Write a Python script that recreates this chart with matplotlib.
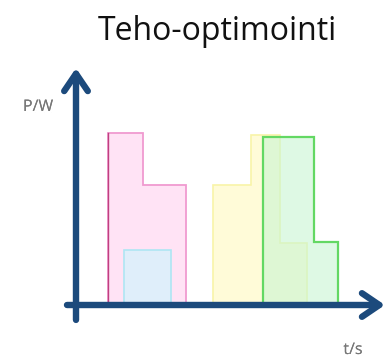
import numpy as np
import matplotlib
matplotlib.use("Agg")
import matplotlib.pyplot as plt
import matplotlib.patheffects as pe

# step profiles: time edges and power per step (arbitrary units)
pink_t = [1.07, 2.23, 3.67]
pink_p = [7.4, 5.15]
blue_t = [1.6, 3.17]
blue_p = [2.35]
yellow_t = [4.57, 5.83, 6.8, 7.7]
yellow_p = [5.15, 7.3, 2.65]
green_t = [6.23, 7.93, 8.73]
green_p = [7.2, 2.7]

title = "Teho-optimointi"
ylabel = "P/W"
xlabel = "t/s"

navy = "#1c4a7c"

fig = plt.figure(figsize=(3.85, 3.61), dpi=100)
ax = fig.add_axes([76/385, 56/361, 300/385, 233/361])
ax.set_xlim(0, 10)
ax.set_ylim(0, 10)
ax.axis("off")

def block(t, p, fc, ec, lw=1.2, alpha=1.0, z=2):
    ax.stairs(p, t, baseline=0, fill=True, facecolor=fc, edgecolor="none", alpha=alpha, zorder=z)
    ax.stairs(p, t, baseline=0, fill=False, edgecolor=ec, lw=lw, zorder=z + 0.5)

block(pink_t, pink_p, "#ffe3f5", "#f09ad0", lw=1.3)
ax.plot([pink_t[0], pink_t[0]], [0, pink_p[0]], color="#c0407f", lw=1.0, zorder=3)
block(blue_t, blue_p, "#dfeefa", "#aee6f3", lw=1.2, z=4)
block(yellow_t, yellow_p, "#fffbd8", "#f8f4a8", lw=1.2)
block(green_t, green_p, "#c8f5d2", "#63d863", lw=1.6, alpha=0.6, z=5)

arrow = dict(arrowstyle="->,head_length=1.25,head_width=0.85", lw=4.6, color=navy,
             capstyle="round", joinstyle="round", shrinkA=0, shrinkB=0)
ax.annotate("", xy=(10.3, 0), xytext=(-0.3, 0), arrowprops=arrow, annotation_clip=False, zorder=6)
ax.annotate("", xy=(0, 10.17), xytext=(0, -0.64), arrowprops=arrow, annotation_clip=False, zorder=6)

glow = [pe.SimplePatchShadow(offset=(1, -1), shadow_rgbFace="#999999", alpha=0.5),
        pe.withStroke(linewidth=3.5, foreground="white"), pe.Normal()]
fig.text(38/385, 1 - 107/361, ylabel, ha="center", va="center", fontsize=11.5,
         color="#777777", family="Open Sans", path_effects=glow)
fig.text(353/385, 1 - 350/361, xlabel, ha="center", va="center", fontsize=11.5,
         color="#777777", family="Open Sans", path_effects=glow)

fig.text(217/385, 1 - 31/361, title, ha="center", va="center", fontsize=23,
         color="#111111", family="Open Sans")

fig.savefig("out.png", dpi=100, facecolor="white")
